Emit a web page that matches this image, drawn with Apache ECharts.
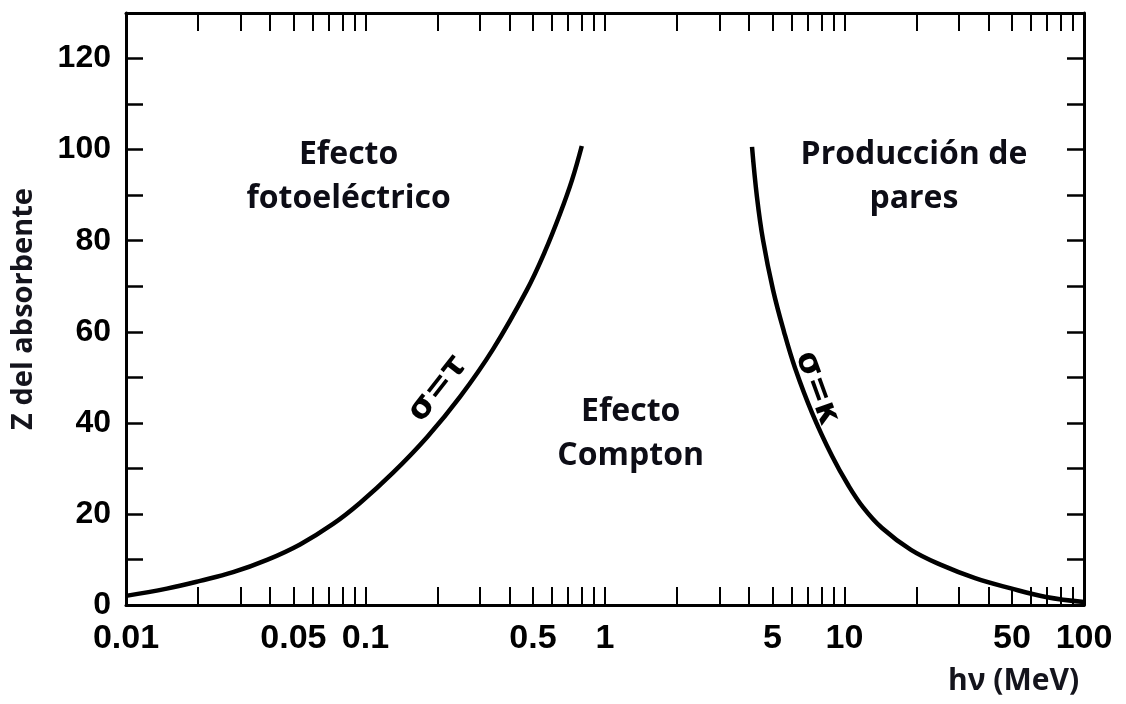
<!DOCTYPE html>
<html>
<head>
<meta charset="utf-8">
<script src="https://cdn.jsdelivr.net/npm/echarts@6/dist/echarts.min.js"></script>
<style>
  html, body { margin: 0; padding: 0; background: #ffffff; }
  #chart { width: 1126px; height: 704px; }
</style>
</head>
<body>
<div id="chart"></div>
<script>
// Boundary σ = τ (photoelectric = Compton): photon energy (MeV) and absorber Z
const fotoEnergia = [0.01, 0.0148, 0.0204, 0.028, 0.0388, 0.0533, 0.0732, 0.0948, 0.130, 0.181, 0.248, 0.341, 0.472, 0.562, 0.649, 0.728, 0.80];
const fotoZ       = [2.0, 3.6, 5.3, 7.2, 9.9, 13.3, 17.8, 22.4, 29.0, 36.9, 45.7, 56.2, 69.2, 77.7, 85.9, 93.3, 100.8];

// Boundary σ = κ (Compton = pair production)
const paresEnergia = [4.11, 4.31, 4.57, 5.03, 5.59, 6.21, 7.32, 8.87, 10.34, 11.94, 14.34, 18.95, 25.3, 35.1, 49.1, 69.4, 100];
const paresZ       = [100.6, 89.6, 80.1, 69.2, 60.0, 52.1, 42.2, 32.7, 26.4, 21.5, 16.9, 12.1, 8.8, 5.9, 3.7, 1.76, 0.66];

// Axis labels and tick marks
const xEtiquetas = [0.01, 0.05, 0.1, 0.5, 1, 5, 10, 50, 100];
const xMarcas = [
  0.02, 0.03, 0.04, 0.05, 0.06, 0.07, 0.08, 0.09, 0.1,
  0.2, 0.3, 0.4, 0.5, 0.6, 0.7, 0.8, 0.9, 1,
  2, 3, 4, 5, 6, 7, 8, 9, 10,
  20, 30, 40, 50, 60, 70, 80, 90
];
const yEtiquetas = [0, 20, 40, 60, 80, 100, 120];
const yMarcas = [10, 20, 30, 40, 50, 60, 70, 80, 90, 100, 110, 120];

// Region names and their anchor points (energy, Z)
const regionTextos  = ['Efecto\nfotoeléctrico', 'Efecto\nCompton', 'Producción de\npares'];
const regionEnergia = [0.085, 1.28, 19.5];
const regionZ       = [94, 37.5, 94];

// Curve captions
const curvaTextos  = ['σ=τ', 'σ=κ'];
const curvaEnergia = [0.2, 7.7];
const curvaZ       = [47.5, 47.5];
const curvaGiro    = [52, -70];

const fmt = v => String(parseFloat(Number(v).toPrecision(6)));

const ejeX = (pos, labels) => ({
  type: 'log',
  logBase: 10,
  position: pos,
  min: 0.01,
  max: 100,
  axisLine: { show: true, onZero: false, lineStyle: { color: '#000', width: 3 } },
  axisTick: { show: true, inside: true, length: 18, customValues: xMarcas,
              lineStyle: { color: '#000', width: 2 } },
  axisLabel: { show: labels, customValues: xEtiquetas, formatter: fmt, margin: 17,
               color: '#000', fontFamily: 'Liberation Sans', fontWeight: 'bold', fontSize: 34 },
  splitLine: { show: false },
  minorTick: { show: false }
});

const ejeY = (pos, labels) => ({
  type: 'value',
  position: pos,
  min: 0,
  max: 130,
  interval: 10,
  axisLine: { show: true, onZero: false, lineStyle: { color: '#000', width: 3 } },
  axisTick: { show: true, inside: true, length: 17, customValues: yMarcas,
              lineStyle: { color: '#000', width: 2.5 } },
  axisLabel: { show: labels, customValues: yEtiquetas, margin: 15,
               color: '#000', fontFamily: 'Liberation Sans', fontWeight: 'bold', fontSize: 32 },
  splitLine: { show: false },
  name: labels ? 'Z del absorbente' : '',
  nameLocation: 'middle',
  nameGap: 88,
  nameRotate: 90,
  nameTextStyle: { color: '#14141c', fontFamily: 'Open Sans', fontWeight: 'bold', fontSize: 29 }
});

const chart = echarts.init(document.getElementById('chart'), null, { renderer: 'canvas' });

chart.setOption({
  animation: false,
  backgroundColor: '#ffffff',
  grid: { left: 126, right: 42, top: 13, bottom: 99 },
  xAxis: [ejeX('bottom', true), ejeX('top', false)],
  yAxis: [ejeY('left', true), ejeY('right', false)],
  graphic: [{
    type: 'text',
    left: 948,
    top: 666,
    style: { text: 'hν (MeV)', fill: '#14141c', font: 'bold 30px "Open Sans"' }
  }],
  series: [
    {
      name: 'σ = τ',
      type: 'line',
      smooth: 0.4,
      symbol: 'none',
      lineStyle: { color: '#000', width: 4.5 },
      data: fotoEnergia.map((e, i) => [e, fotoZ[i]])
    },
    {
      name: 'σ = κ',
      type: 'line',
      smooth: 0.4,
      symbol: 'none',
      lineStyle: { color: '#000', width: 4.5 },
      data: paresEnergia.map((e, i) => [e, paresZ[i]])
    },
    {
      name: 'regiones',
      type: 'scatter',
      silent: true,
      symbolSize: 0,
      itemStyle: { opacity: 1 },
      data: regionTextos.map((t, i) => ({ value: [regionEnergia[i], regionZ[i]], name: t })),
      label: {
        show: true,
        position: 'inside',
        formatter: p => p.name,
        color: '#0d0d16',
        fontFamily: 'Open Sans',
        fontWeight: 'bold',
        fontSize: 32,
        lineHeight: 44,
        align: 'center'
      }
    },
    {
      name: 'curvas',
      type: 'scatter',
      silent: true,
      symbolSize: 0,
      itemStyle: { opacity: 1 },
      data: curvaTextos.map((t, i) => ({
        value: [curvaEnergia[i], curvaZ[i]],
        name: t,
        label: { rotate: curvaGiro[i] }
      })),
      label: {
        show: true,
        position: 'inside',
        formatter: p => p.name,
        color: '#000',
        fontFamily: 'DejaVu Sans',
        fontWeight: 'bold',
        fontSize: 33
      }
    }
  ]
});
</script>
</body>
</html>
